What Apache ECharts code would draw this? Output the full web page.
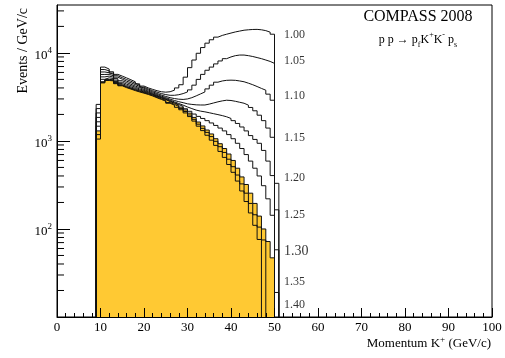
<!DOCTYPE html>
<html><head><meta charset="utf-8">
<script src="https://cdn.jsdelivr.net/npm/echarts@6/dist/echarts.min.js"></script>
<style>html,body{margin:0;padding:0;background:#fff}#c{width:505px;height:358px}</style>
</head><body><div id="c"></div>
<script>
// ---- data ----
const binLow = [9,10,11,12,13,14,15,16,17,18,19,20,21,22,23,24,25,26,27,28,29,30,31,32,33,34,35,36,37,38,39,40,41,42,43,44,45,46,47,48,49,50];
const cutLabels = ['1.00','1.05','1.10','1.15','1.20','1.25','1.30','1.35','1.40'];
const cut100 = [2600,6900,6550,6100,5700,5450,5200,4950,4700,4450,4200,4000,3850,3720,3620,3580,3620,3770,4000,4350,5300,6800,8300,9900,11500,12900,14100,15100,15800,16300,16800,17300,17700,18100,18300,18450,18500,18300,17900,17200,16300,330];
const cut105 = [2330,6470,6250,5900,5500,5230,4980,4760,4520,4300,4080,3880,3720,3580,3450,3360,3300,3300,3350,3450,3600,3800,4300,5000,5700,6350,6900,7500,8100,8600,9000,9300,9450,9450,9300,9100,8850,8600,8300,8000,7600,165];
const cut110 = [2080,6070,5950,5700,5300,5030,4780,4580,4360,4170,3970,3780,3620,3460,3320,3200,3100,3030,2980,2960,3000,3100,3250,3420,3600,3900,4300,4650,4800,4880,4900,4880,4800,4700,4530,4350,4150,3950,3770,3400,2900,58];
const cut115 = [1850,5690,5700,5500,5100,4830,4600,4400,4200,4030,3850,3680,3530,3370,3230,3100,2980,2880,2790,2720,2640,2600,2570,2560,2560,2620,2700,2780,2850,2900,2880,2820,2750,2680,2550,2400,2200,1960,1700,1400,1100,19];
const cut120 = [1650,5340,5450,5300,4900,4640,4420,4250,4070,3900,3750,3600,3450,3290,3160,3030,2900,2780,2660,2550,2430,2330,2240,2180,2140,2090,2040,1990,1940,1880,1800,1700,1580,1440,1300,1150,1040,940,780,590,404,0];
const cut125 = [1470,5010,5210,5110,4740,4480,4270,4110,3950,3800,3670,3540,3390,3240,3110,2980,2840,2720,2590,2470,2320,2170,2020,1900,1800,1700,1600,1500,1400,1300,1180,1060,940,820,700,590,490,400,310,220,143,0];
const cut130 = [1300,4700,5000,4950,4600,4350,4150,4000,3850,3720,3600,3480,3350,3200,3080,2950,2800,2680,2550,2420,2250,2070,1850,1640,1480,1330,1200,1060,930,820,710,600,490,390,320,255,195,140,100,72,47,0];
const cut135 = [1180,4630,4930,4880,4530,4290,4090,3940,3790,3660,3540,3420,3290,3140,3010,2880,2730,2600,2470,2330,2160,1970,1760,1550,1390,1250,1120,990,860,740,620,510,410,325,255,195,145,105,75,0,0,0];
const cut140 = [1050,4560,4860,4810,4470,4230,4030,3880,3730,3600,3490,3370,3240,3090,2960,2830,2680,2550,2410,2260,2080,1890,1680,1470,1310,1160,1020,890,760,650,540,440,350,270,205,152,110,76,0,0,0,0];
const yMinorTicks = [20,30,40,50,60,70,80,90,200,300,400,500,600,700,800,900,2000,3000,4000,5000,6000,7000,8000,9000,20000,30000];

// ---- drawing ----
const cuts = [cut100,cut105,cut110,cut115,cut120,cut125,cut130,cut135,cut140];
const SERIF = '"Liberation Serif","DejaVu Serif",serif';
const FLOOR = 1; // empty bin: below the axis floor, clipped
const binW = binLow[1] - binLow[0];
const highlighted = 6; // 1.30
const labelNudge = [1,-3,-4,1,2,0,-7,42,65];
const LABEL_X = 52.2;

function lastFilled(vals){ let l=-1; vals.forEach((v,i)=>{ if(v>0) l=i; }); return l; }
function histPoints(vals){
  const last = lastFilled(vals);
  const pts = [[binLow[0], FLOOR]];
  for (let i=0;i<=last;i++) pts.push([binLow[i], vals[i] > 0 ? vals[i] : FLOOR]);
  pts.push([binLow[last] + binW, FLOOR]);
  return pts;
}

const series = [];
series.push({
  type:'line', name: cutLabels[highlighted], data: histPoints(cuts[highlighted]), step:'end',
  symbol:'none', clip:true, z:2,
  lineStyle:{color:'#111', width:1},
  areaStyle:{color:'#ffc933', opacity:1, origin:'start'}
});
cuts.forEach((c,k)=>{
  if (k === highlighted) return;
  series.push({type:'line', name: cutLabels[k], data: histPoints(c), step:'end', symbol:'none', clip:true, z:3,
    lineStyle:{color:'#111', width:1}});
});
// labels at the right end of each curve
const labelData = cuts.map((c,k)=>{
  const l = lastFilled(c.slice(0, binLow.indexOf(49)+1));
  return {value:[LABEL_X, c[l]], name: cutLabels[k],
    label:{offset:[0, labelNudge[k]], fontSize: k===highlighted ? 14 : 12}};
});
series.push({type:'scatter', data: labelData, symbolSize:0, silent:true, z:4, clip:false,
  label:{show:true, position:'right', distance:0, formatter: p=>p.name, color:'#000', fontFamily:SERIF, fontSize:12}});
// minor ticks of the log axis
series.push({type:'custom', silent:true, z:10, clip:true,
  data: yMinorTicks.map(v=>[0, v]),
  renderItem:(params, api)=>{
    const p = api.coord([api.value(0), api.value(1)]);
    return {type:'line', shape:{x1:p[0], y1:p[1], x2:p[0]+7, y2:p[1]}, style:{stroke:'#000', lineWidth:1}};
  }});

const chart = echarts.init(document.getElementById('c'), null, {renderer:'canvas'});
chart.setOption({
  animation:false,
  backgroundColor:'#fff',
  grid:{left:57, right:13, top:5, bottom:41, show:true, borderColor:'#000', borderWidth:1, backgroundColor:'transparent'},
  xAxis:{type:'value', min:0, max:100, interval:10, z:10,
    axisLine:{lineStyle:{color:'#000', width:1}},
    axisTick:{inside:true, length:9, lineStyle:{color:'#000'}},
    minorTick:{show:true, splitNumber:5, length:4, lineStyle:{color:'#000'}},
    splitLine:{show:false},
    axisLabel:{color:'#000', fontFamily:SERIF, fontSize:13, margin:4}},
  yAxis:{type:'log', logBase:10, min:10, max:35000, z:10,
    axisLine:{lineStyle:{color:'#000', width:1}},
    axisTick:{inside:true, length:13, lineStyle:{color:'#000'}},
    minorTick:{show:false}, splitLine:{show:false},
    axisLabel:{showMinLabel:false, showMaxLabel:false, margin:5, padding:[6,0,0,0],
      formatter:v=>'{b|10}{e|' + Math.round(Math.log10(v)) + '}',
      rich:{b:{fontFamily:SERIF, fontSize:13, color:'#000', lineHeight:20},
            e:{fontFamily:SERIF, fontSize:9, color:'#000', lineHeight:11, verticalAlign:'top'}}}},
  graphic:[
    {type:'text', x:23, y:8, rotation:Math.PI/2, style:{text:'Events / GeV/c', font:'14px ' + SERIF, fill:'#000', align:'right', verticalAlign:'middle'}},
    {type:'text', x:491, y:344, style:{text:'{n|Momentum K}{s|+}{n| (GeV/c)}', fill:'#000', align:'right', verticalAlign:'middle',
      rich:{n:{fontFamily:SERIF, fontSize:13, lineHeight:18, color:'#000'}, s:{fontFamily:SERIF, fontSize:9, lineHeight:10, verticalAlign:'top', color:'#000'}}}},
    {type:'text', x:418, y:17, style:{text:'COMPASS 2008', font:'16px ' + SERIF, fill:'#000', align:'center', verticalAlign:'middle'}},
    {type:'text', x:418, y:40, style:{text:'{n|p p \u2192 p}{b|f}{n|K}{t|+}{n|K}{t|-}{n| p}{b|s}', fill:'#000', align:'center', verticalAlign:'middle',
      rich:{n:{fontFamily:SERIF, fontSize:12, lineHeight:18, color:'#000'},
            t:{fontFamily:SERIF, fontSize:8, lineHeight:9, verticalAlign:'top', color:'#000'},
            b:{fontFamily:SERIF, fontSize:8, lineHeight:9, verticalAlign:'bottom', color:'#000'}}}}
  ],
  series: series
});
</script></body></html>
